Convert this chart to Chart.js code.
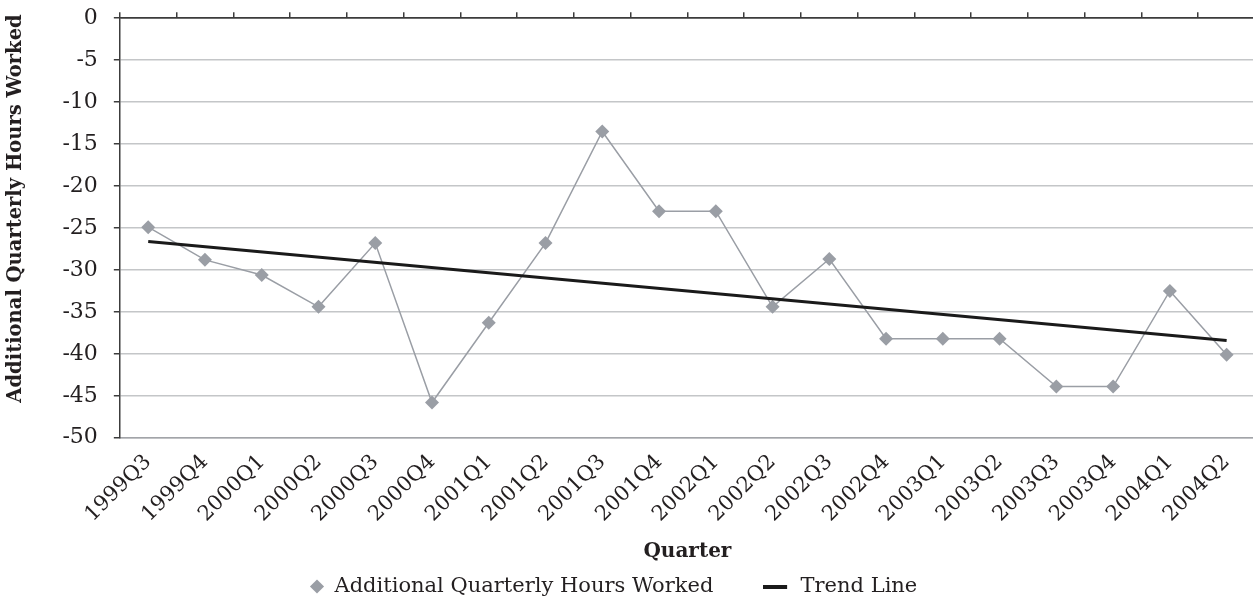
<!DOCTYPE html>
<html>
<head>
<meta charset="utf-8">
<script src="https://cdn.jsdelivr.net/npm/chart.js@4"></script>
<style>
  html, body { margin: 0; padding: 0; background: #ffffff; overflow: hidden; }
  #wrap { position: relative; width: 1262px; height: 599px; }
</style>
</head>
<body>
<div id="wrap"><canvas id="hoursChart"></canvas></div>
<script>
// Quarterly series and linear trend (end values)
const quarters = ['1999Q3', '1999Q4', '2000Q1', '2000Q2', '2000Q3', '2000Q4', '2001Q1', '2001Q2',
                  '2001Q3', '2001Q4', '2002Q1', '2002Q2', '2002Q3', '2002Q4', '2003Q1', '2003Q2',
                  '2003Q3', '2003Q4', '2004Q1', '2004Q2'];
const hoursWorked = [-24.9, -28.8, -30.6, -34.4, -26.8, -45.8, -36.3, -26.8,
                     -13.5, -23.0, -23.0, -34.4, -28.7, -38.2, -38.2, -38.2,
                     -43.9, -43.9, -32.5, -40.1];
const trendStart = -26.6;
const trendEnd = -38.4;
const yTicks = [0, -5, -10, -15, -20, -25, -30, -35, -40, -45, -50];

const FONT = "'DejaVu Serif', serif";
const TEXT = '#231f20';
const AXIS = '#3c3c3c';
const GRID = '#c4c6c8';
const SERIES = '#9a9ea5';

// trend only has its two end points; the line spans the gap
const trendData = quarters.map((q, i) => i === 0 ? trendStart : (i === quarters.length - 1 ? trendEnd : null));

// black bar for the trend legend entry (right part left empty so the text sits further off)
const trendMark = document.createElement('canvas');
trendMark.width = 40;
trendMark.height = 4;
const tm = trendMark.getContext('2d');
tm.fillStyle = '#1a1a1a';
tm.fillRect(0, 0, 24, 4);

const ctx = document.getElementById('hoursChart').getContext('2d');

new Chart(ctx, {
    type: 'line',
    data: {
        labels: quarters,
        datasets: [
            {
                label: 'Additional Quarterly Hours Worked',
                data: hoursWorked,
                borderColor: SERIES,
                backgroundColor: SERIES,
                borderWidth: 1.5,
                pointStyle: 'rectRot',
                pointRadius: 7,
                pointBorderWidth: 0,
                tension: 0,
                order: 2
            },
            {
                label: 'Trend Line',
                data: trendData,
                borderColor: '#1a1a1a',
                backgroundColor: '#1a1a1a',
                borderWidth: 3,
                pointRadius: 0,
                pointStyle: trendMark,
                spanGaps: true,
                order: 1
            }
        ]
    },
    options: {
        responsive: true,
        maintainAspectRatio: false,
        animation: false,
        layout: { padding: { top: 2, left: 4, right: 3, bottom: -8 } },
        plugins: {
            tooltip: { enabled: false },
            legend: {
                position: 'bottom',
                labels: {
                    color: TEXT,
                    font: { family: FONT, size: 21 },
                    usePointStyle: true,
                    boxWidth: 14,
                    boxHeight: 10,
                    padding: 6,
                    sort: (a, b) => a.datasetIndex - b.datasetIndex,
                    generateLabels: function(chart) {
                        const items = Chart.defaults.plugins.legend.labels.generateLabels(chart);
                        items.forEach(it => {
                            it.text = it.text + (it.datasetIndex === 0 ? '\u2003\u2003\u2002\u2009' : '\u2003\u2002\u2009');
                        });
                        return items;
                    }
                }
            }
        },
        scales: {
            x: {
                position: 'bottom',
                offset: true,
                grid: { display: false, drawTicks: false },
                border: { display: true, color: '#a2a4a8', width: 1.5 },
                ticks: {
                    color: TEXT,
                    font: { family: FONT, size: 21 },
                    minRotation: 45,
                    maxRotation: 45,
                    autoSkip: false,
                    padding: 12
                },
                title: {
                    display: true,
                    text: 'Quarter',
                    color: TEXT,
                    font: { family: FONT, size: 20, weight: 'bold' },
                    padding: { top: 1, bottom: 6 }
                }
            },
            xTop: {
                position: 'top',
                offset: true,
                labels: quarters,
                grid: {
                    offset: true,
                    drawOnChartArea: false,
                    drawTicks: true,
                    tickLength: 6,
                    tickColor: AXIS,
                    lineWidth: 1.5
                },
                border: { display: true, color: AXIS, width: 1.5 },
                ticks: { display: false }
            },
            y: {
                min: -50,
                max: 0,
                afterBuildTicks: function(axis) {
                    axis.ticks = yTicks.map(v => ({ value: v }));
                },
                grid: {
                    color: c => c.tick && c.tick.value === 0 ? AXIS : GRID,
                    lineWidth: 1.5,
                    tickLength: 6,
                    tickColor: AXIS
                },
                border: { display: true, color: AXIS, width: 1.5 },
                ticks: {
                    color: TEXT,
                    font: { family: FONT, size: 22 },
                    padding: 5,
                    callback: v => v + '\u2002'
                },
                title: {
                    display: true,
                    text: '\u2003\u2003Additional Quarterly Hours Worked',
                    color: TEXT,
                    font: { family: FONT, size: 19.5, weight: 'bold' },
                    padding: { top: 0, bottom: 30 }
                }
            }
        }
    }
});
</script>
</body>
</html>
